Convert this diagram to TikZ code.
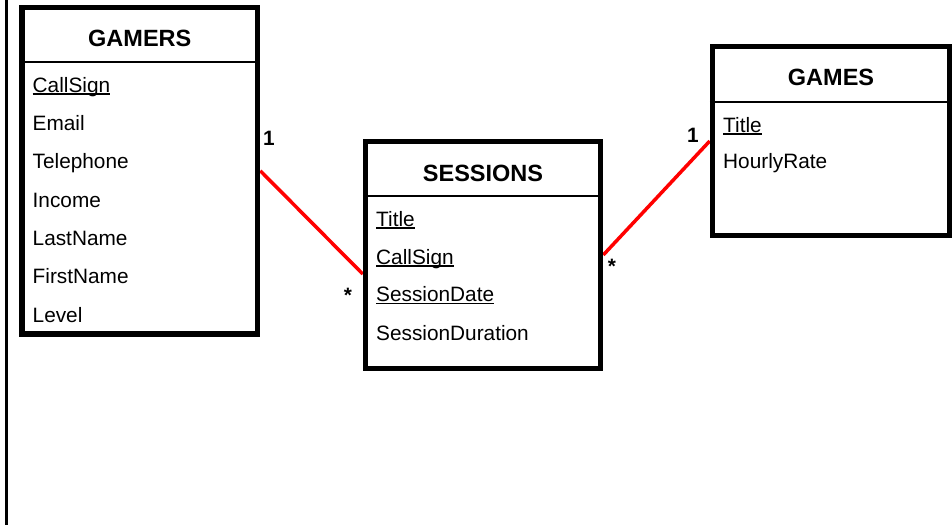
\documentclass[tikz,border=0pt]{standalone}
\usepackage{fontspec}
\setmainfont{Liberation Sans}
\usetikzlibrary{backgrounds,calc}
\newcommand{\ulx}[1]{{\setbox0\hbox{#1}\rlap{\rule[-2.6pt]{\wd0}{1.4pt}}\box0}}
\tikzset{
  entity/.style={draw=black, line width=5.5pt, inner sep=0pt},
  sepline/.style={draw=black, line width=1.6pt},
  hdr/.style={anchor=base, inner sep=0pt, font=\fontsize{23.5}{26}\selectfont\bfseries},
  attr/.style={anchor=base west, inner sep=0pt, font=\fontsize{20.8}{24}\selectfont},
  mult/.style={inner sep=0pt, font=\fontsize{20.8}{24}\selectfont\bfseries},
  rel/.style={draw=red, line width=3.5pt},
}
\begin{document}
\begin{tikzpicture}[x=1pt,y=-1pt]
\useasboundingbox (0,0) rectangle (952,525);
\draw[line width=3pt] (6.5,0) -- (6.5,525);
% GAMERS
\node[entity, minimum width=235.5pt, minimum height=326.5pt] (gamers) at (139.75,170.75) {};
\draw[sepline] (gamers.west |- 0,62) -- (gamers.east |- 0,62);
\node[hdr] (gamersT) at (139.75,46.7) {GAMERS};
\node[attr] (g1) at (32.5,92) {\ulx{CallSign}};
\node[attr] (g2) at (32.5,130) {Email};
\node[attr] (g3) at (32.5,168.5) {Telephone};
\node[attr] (g4) at (32.5,207) {Income};
\node[attr] (g5) at (32.5,245) {LastName};
\node[attr] (g6) at (32.5,283) {FirstName};
\node[attr] (g7) at (32.5,322) {Level};
% SESSIONS
\node[entity, minimum width=235pt, minimum height=227pt] (sessions) at (483,255) {};
\draw[sepline] (sessions.west |- 0,196) -- (sessions.east |- 0,196);
\node[hdr] (sessionsT) at (483,181) {SESSIONS};
\node[attr] (s1) at (376,226) {\ulx{Title}};
\node[attr] (s2) at (376,264) {\ulx{CallSign}};
\node[attr] (s3) at (376,301.5) {\ulx{SessionDate}};
\node[attr] (s4) at (376,340.5) {SessionDuration};
% GAMES
\node[entity, minimum width=237pt, minimum height=189pt] (games) at (831,141) {};
\draw[sepline] (games.west |- 0,102) -- (games.east |- 0,102);
\node[hdr] (gamesT) at (831,85) {GAMES};
\node[attr] (t1) at (723,132) {\ulx{Title}};
\node[attr] (t2) at (723,168.5) {HourlyRate};
% relationships
\begin{pgfonlayer}{background}
\coordinate (sin) at (sessions.west |- 0,274);
\draw[rel] (gamers.east) -- (sin);
\draw[rel] (sessions.east) -- (games.west);
\end{pgfonlayer}
\node[mult] (m1) at (269,138) {1};
\node[mult] (m2) at (348,295) {*};
\node[mult] (m3) at (612,266) {*};
\node[mult] (m4) at (693,135) {1};
\end{tikzpicture}
\end{document}
